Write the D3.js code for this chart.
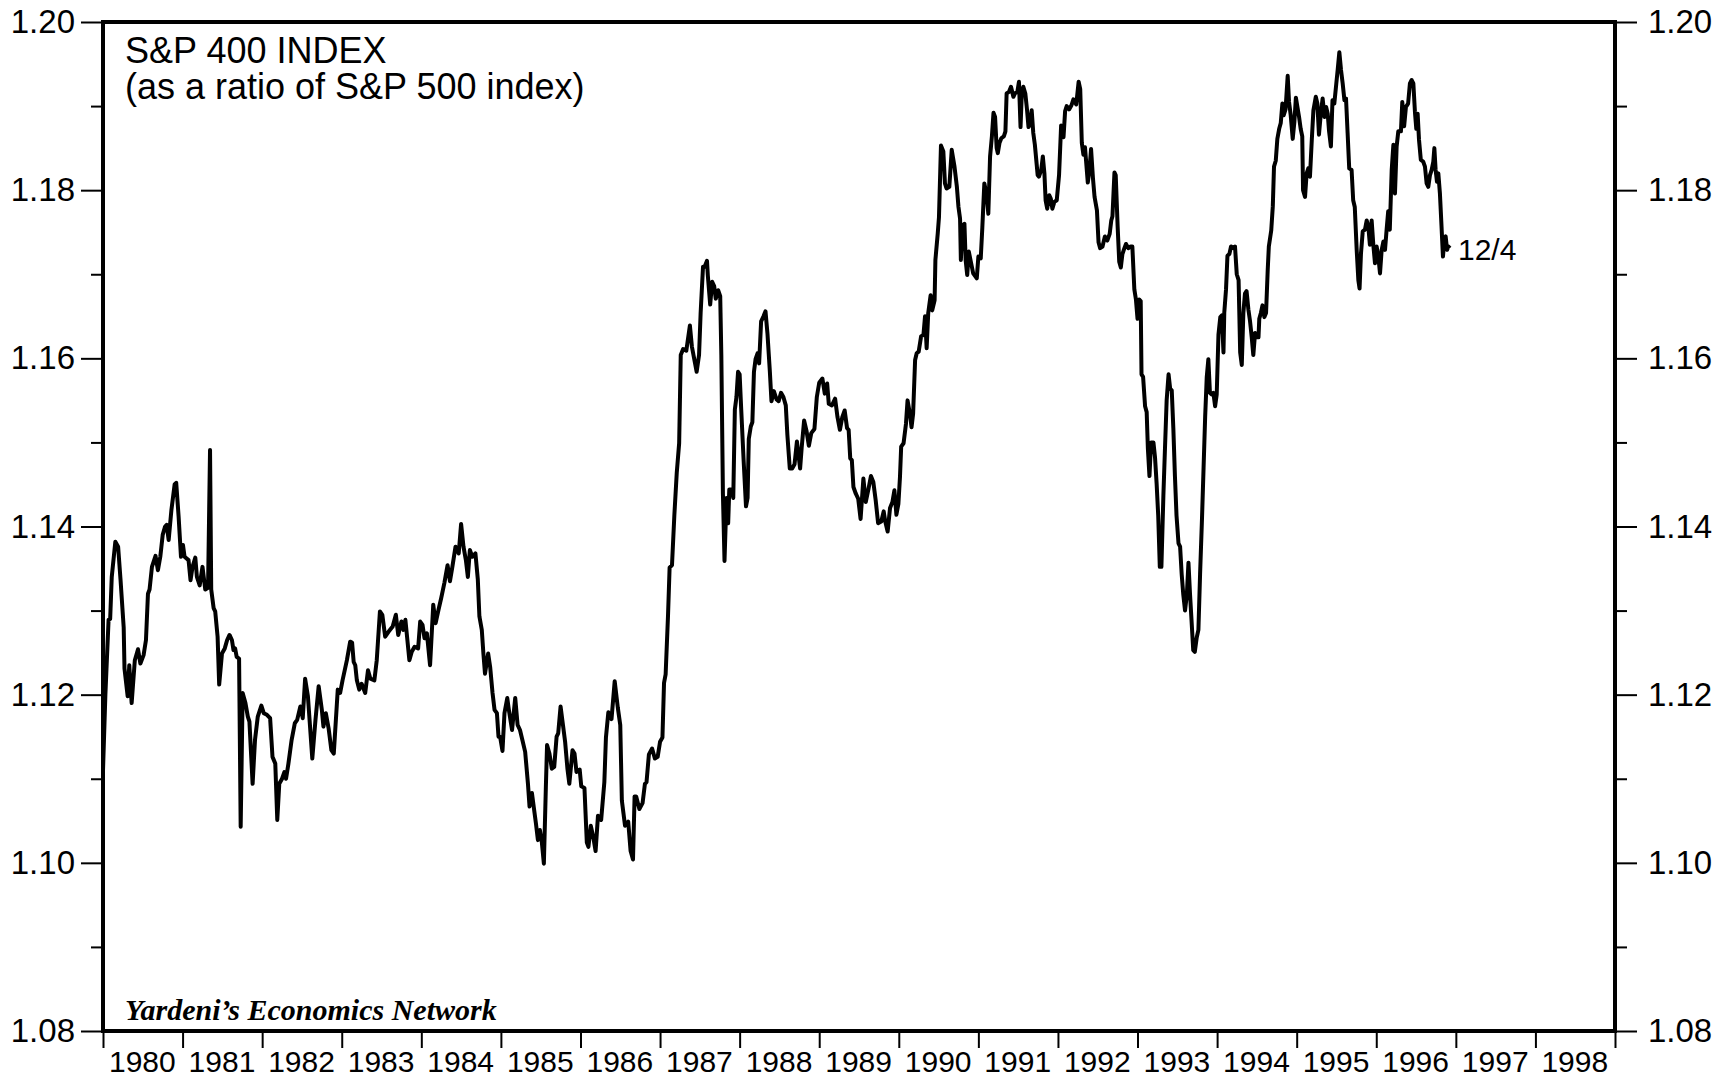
<!DOCTYPE html>
<html>
<head>
<meta charset="utf-8">
<script src="https://cdn.jsdelivr.net/npm/d3@7"></script>
<style>
  body { margin: 0; background: #fff; }
  svg text { font-family: "Liberation Sans", Arial, Helvetica, sans-serif; fill: #000; }
</style>
</head>
<body>
<svg id="chart" width="1732" height="1078"></svg>
<script>
// weekly S&P 400 / S&P 500 ratio, [decimal year, ratio]
const seg1980_82 = [
  [1980.00,1.111],[1980.03,1.120],[1980.07,1.1289],[1980.09,1.129],[1980.11,1.134],[1980.155,1.1382],
  [1980.19,1.1376],[1980.22,1.1337],[1980.26,1.128],[1980.27,1.1231],[1980.31,1.1198],[1980.33,1.1235],
  [1980.36,1.119],[1980.40,1.1241],[1980.44,1.1254],[1980.47,1.1237],[1980.51,1.1247],[1980.54,1.1265],
  [1980.565,1.132],[1980.585,1.1325],[1980.615,1.1352],[1980.66,1.1365],[1980.69,1.1348],[1980.72,1.1364],
  [1980.75,1.139],[1980.78,1.14],[1980.80,1.1402],[1980.825,1.1384],[1980.86,1.142],[1980.90,1.145],
  [1980.92,1.1452],[1980.95,1.1412],[1980.98,1.1364],[1981.005,1.1378],[1981.025,1.1364],[1981.075,1.136],
  [1981.10,1.1336],[1981.125,1.1352],[1981.16,1.1363],[1981.18,1.134],[1981.215,1.133],[1981.25,1.1352],
  [1981.285,1.1325],[1981.32,1.1327],[1981.345,1.1491],[1981.36,1.1325],[1981.39,1.1303],[1981.41,1.1299],
  [1981.44,1.1269],[1981.46,1.1212],[1981.495,1.1249],[1981.53,1.1255],[1981.56,1.1265],[1981.59,1.1271],
  [1981.62,1.1265],[1981.64,1.1253],[1981.66,1.1255],[1981.68,1.1245],[1981.71,1.1243],[1981.73,1.1043],
  [1981.755,1.1202],[1981.79,1.119],[1981.82,1.1174],[1981.84,1.1168],[1981.88,1.1094],[1981.91,1.1146],
  [1981.945,1.1174],[1981.99,1.1187],[1982.02,1.1178],[1982.06,1.1176],[1982.10,1.1172],[1982.13,1.1126],
  [1982.165,1.1118],[1982.19,1.1051],[1982.215,1.1094],[1982.25,1.11],[1982.28,1.1108],[1982.30,1.11],
  [1982.33,1.1118],[1982.37,1.1146],[1982.41,1.1166],[1982.44,1.117],[1982.48,1.1186],[1982.51,1.1172],
  [1982.54,1.1219],[1982.575,1.1198],[1982.63,1.1124],[1982.67,1.117],[1982.71,1.121],[1982.75,1.1182],
  [1982.77,1.1162],[1982.80,1.1178],[1982.835,1.116],[1982.87,1.1134],[1982.90,1.113]
];
const seg1983_85 = [
  [1982.95,1.1206],[1982.98,1.1202],[1983.01,1.1217],[1983.065,1.1241],[1983.106,1.1263],[1983.13,1.1262],
  [1983.15,1.1239],[1983.17,1.1235],[1983.19,1.1217],[1983.22,1.1206],[1983.25,1.1213],[1983.295,1.1202],
  [1983.33,1.1229],[1983.36,1.1219],[1983.41,1.1217],[1983.44,1.1241],[1983.48,1.1299],[1983.51,1.1295],
  [1983.546,1.1269],[1983.59,1.1275],[1983.64,1.1281],[1983.68,1.1295],[1983.71,1.1271],[1983.75,1.1287],
  [1983.776,1.1277],[1983.80,1.1289],[1983.85,1.1241],[1983.88,1.1251],[1983.915,1.1257],[1983.96,1.1255],
  [1983.986,1.1287],[1984.015,1.1283],[1984.04,1.1267],[1984.07,1.1273],[1984.11,1.1235],[1984.15,1.1307],
  [1984.18,1.1285],[1984.216,1.1301],[1984.25,1.1315],[1984.29,1.1333],[1984.33,1.1354],[1984.36,1.1335],
  [1984.39,1.1352],[1984.43,1.1376],[1984.47,1.1368],[1984.50,1.1403],[1984.53,1.1376],[1984.56,1.136],
  [1984.585,1.134],[1984.61,1.1372],[1984.64,1.1364],[1984.68,1.1368],[1984.71,1.1337],[1984.73,1.1293],
  [1984.76,1.1277],[1984.78,1.1249],[1984.80,1.1225],[1984.84,1.1249],[1984.865,1.1233],[1984.895,1.1202],
  [1984.92,1.1182],[1984.95,1.1178],[1984.97,1.115],[1984.99,1.115],[1985.02,1.1133],[1985.045,1.1178],
  [1985.08,1.1196],[1985.10,1.1182],[1985.14,1.1158],[1985.18,1.1196],[1985.21,1.1164],[1985.24,1.1158],
  [1985.27,1.1146],[1985.305,1.1132],[1985.34,1.1094],[1985.36,1.1067],[1985.39,1.1083],[1985.415,1.1065],
  [1985.44,1.1047],[1985.465,1.1027],[1985.49,1.1039],[1985.514,1.1025],[1985.54,1.0999],[1985.565,1.109],
  [1985.58,1.114],[1985.61,1.113],[1985.64,1.1112],[1985.67,1.1114],[1985.70,1.115],[1985.72,1.1154],
  [1985.75,1.1186],[1985.78,1.1164],[1985.807,1.1144],[1985.836,1.1112],[1985.86,1.1094],[1985.90,1.1134],
  [1985.925,1.113]
];
const seg1986_88 = [
  [1985.95,1.1108],[1985.99,1.1111],[1986.01,1.1091],[1986.05,1.1089],[1986.08,1.1024],[1986.10,1.1019],
  [1986.13,1.1044],[1986.16,1.1031],[1986.19,1.1014],[1986.22,1.1056],[1986.26,1.1051],[1986.30,1.1096],
  [1986.32,1.1149],[1986.35,1.1179],[1986.39,1.1171],[1986.43,1.1216],[1986.47,1.1184],[1986.50,1.1164],
  [1986.52,1.1074],[1986.56,1.1044],[1986.60,1.1049],[1986.63,1.1014],[1986.66,1.1004],[1986.68,1.1079],
  [1986.70,1.1079],[1986.74,1.1064],[1986.78,1.1071],[1986.81,1.1094],[1986.83,1.1096],[1986.86,1.1129],
  [1986.90,1.1136],[1986.935,1.1124],[1986.97,1.1126],[1987.00,1.1144],[1987.03,1.1149],[1987.05,1.1214],
  [1987.07,1.1224],[1987.10,1.1294],[1987.12,1.1351],[1987.15,1.1354],[1987.18,1.1414],[1987.21,1.1464],
  [1987.24,1.1499],[1987.26,1.1604],[1987.29,1.1611],[1987.33,1.1609],[1987.375,1.1639],[1987.40,1.1614],
  [1987.44,1.1594],[1987.46,1.1584],[1987.49,1.1604],[1987.51,1.1654],[1987.54,1.1709],[1987.56,1.1709],
  [1987.59,1.1716],[1987.60,1.1699],[1987.63,1.1664],[1987.655,1.1691],[1987.68,1.1686],[1987.70,1.1671],
  [1987.73,1.1681],[1987.756,1.1674],[1987.77,1.1604],[1987.79,1.1439],[1987.81,1.1359],[1987.835,1.1434],
  [1987.856,1.1404],[1987.87,1.1444],[1987.90,1.1444],[1987.92,1.1434],[1987.94,1.1539],[1987.96,1.1554],
  [1987.98,1.1584],[1988.00,1.1581],[1988.02,1.1539],[1988.05,1.1479],[1988.08,1.1424],[1988.10,1.1434],
  [1988.115,1.1504],[1988.14,1.1519],[1988.16,1.1524],[1988.18,1.1584],[1988.20,1.1599],[1988.225,1.1606],
  [1988.245,1.1594],[1988.27,1.1644],[1988.30,1.165],[1988.325,1.1656],[1988.35,1.1629],[1988.38,1.1584],
  [1988.40,1.1549],[1988.43,1.1561],[1988.465,1.1551],[1988.49,1.1549],[1988.52,1.1559],[1988.55,1.1554],
  [1988.58,1.1544],[1988.60,1.1509],[1988.63,1.1469],[1988.66,1.1469],[1988.69,1.1474],[1988.72,1.1501],
  [1988.76,1.1469],[1988.78,1.1494],[1988.81,1.1526],[1988.84,1.1514],[1988.87,1.1496],[1988.90,1.1511],
  [1988.94,1.1516]
];
const seg1989_91 = [
  [1988.97,1.1554],[1989.00,1.1571],[1989.04,1.1576],[1989.07,1.1558],[1989.10,1.157],[1989.12,1.1546],
  [1989.16,1.1544],[1989.20,1.1552],[1989.23,1.153],[1989.26,1.1515],[1989.29,1.153],[1989.32,1.1538],
  [1989.35,1.1517],[1989.37,1.1515],[1989.39,1.1481],[1989.41,1.1479],[1989.43,1.1447],[1989.46,1.1439],
  [1989.49,1.1433],[1989.52,1.1409],[1989.555,1.1457],[1989.585,1.1429],[1989.62,1.1445],[1989.65,1.146],
  [1989.68,1.1453],[1989.71,1.1431],[1989.74,1.1404],[1989.78,1.1406],[1989.81,1.1418],[1989.83,1.1406],
  [1989.86,1.1394],[1989.89,1.1422],[1989.92,1.1429],[1989.945,1.1443],[1989.97,1.1414],[1989.995,1.1427],
  [1990.015,1.1459],[1990.03,1.1495],[1990.06,1.1499],[1990.09,1.1522],[1990.11,1.155],[1990.14,1.1534],
  [1990.16,1.1518],[1990.18,1.1534],[1990.205,1.1598],[1990.225,1.1606],[1990.25,1.1608],[1990.28,1.1626],
  [1990.31,1.1628],[1990.33,1.165],[1990.35,1.1612],[1990.37,1.1654],[1990.40,1.1675],[1990.42,1.1657],
  [1990.45,1.1669],[1990.46,1.1717],[1990.49,1.1749],[1990.505,1.1768],[1990.53,1.1853],[1990.56,1.1846],
  [1990.58,1.1808],[1990.60,1.1802],[1990.635,1.1804],[1990.665,1.1848],[1990.70,1.1828],[1990.73,1.1804],
  [1990.75,1.178],[1990.77,1.1766],[1990.78,1.1717],[1990.80,1.1758],[1990.825,1.176],[1990.84,1.1717],
  [1990.86,1.1699],[1990.88,1.1727],[1990.905,1.1715],[1990.935,1.1701],[1990.98,1.1695],[1991.00,1.1721],
  [1991.03,1.1719],[1991.05,1.1756],[1991.075,1.1808],[1991.105,1.1794],[1991.125,1.1772],[1991.147,1.184],
  [1991.17,1.1864],[1991.19,1.1892],[1991.21,1.1887],[1991.23,1.185],[1991.244,1.1844],[1991.265,1.1856],
  [1991.29,1.1862],[1991.32,1.1864],[1991.34,1.187],[1991.355,1.1915],[1991.385,1.1917],[1991.41,1.1923],
  [1991.44,1.1911],[1991.46,1.1915],[1991.49,1.1917],[1991.51,1.1929],[1991.53,1.1875],[1991.545,1.1913],
  [1991.565,1.1923],[1991.59,1.1915],[1991.61,1.1897],[1991.63,1.1875],[1991.65,1.1879],[1991.67,1.1895],
  [1991.69,1.1868],[1991.71,1.1854],[1991.745,1.1818],[1991.76,1.1816],[1991.79,1.1824],[1991.81,1.184],
  [1991.83,1.182],[1991.845,1.1788],[1991.865,1.1778],[1991.89,1.1794],[1991.91,1.179],[1991.93,1.1778],
  [1991.955,1.1786],[1991.985,1.1788]
];
const seg1992_94 = [
  [1992.014,1.1818],[1992.04,1.1877],[1992.07,1.1863],[1992.09,1.1894],[1992.11,1.19],[1992.14,1.1896],
  [1992.17,1.1901],[1992.194,1.1908],[1992.23,1.1902],[1992.26,1.1929],[1992.28,1.192],[1992.30,1.1856],
  [1992.32,1.1842],[1992.34,1.1851],[1992.375,1.1809],[1992.395,1.1823],[1992.416,1.1849],[1992.44,1.1814],
  [1992.46,1.1792],[1992.49,1.1776],[1992.51,1.1738],[1992.53,1.1731],[1992.56,1.1733],[1992.59,1.1745],
  [1992.62,1.174],[1992.65,1.1748],[1992.67,1.1764],[1992.685,1.1769],[1992.71,1.1821],[1992.726,1.1818],
  [1992.75,1.1757],[1992.77,1.1715],[1992.79,1.1708],[1992.81,1.1724],[1992.835,1.1731],[1992.855,1.1736],
  [1992.885,1.1731],[1992.915,1.1733],[1992.935,1.1733],[1992.96,1.1682],[1992.98,1.167],[1993.00,1.1647],
  [1993.02,1.167],[1993.04,1.1668],[1993.05,1.1581],[1993.07,1.1578],[1993.095,1.1543],[1993.115,1.1536],
  [1993.13,1.1493],[1993.15,1.146],[1993.17,1.15],[1993.20,1.15],[1993.22,1.1482],[1993.24,1.1451],
  [1993.26,1.1413],[1993.28,1.1352],[1993.30,1.1352],[1993.325,1.1437],[1993.345,1.1493],[1993.366,1.155],
  [1993.39,1.1581],[1993.41,1.1564],[1993.43,1.1562],[1993.45,1.1517],[1993.47,1.146],[1993.49,1.1413],
  [1993.515,1.138],[1993.535,1.1376],[1993.555,1.1343],[1993.575,1.1319],[1993.597,1.13],[1993.62,1.1319],
  [1993.64,1.1357],[1993.66,1.1319],[1993.68,1.1286],[1993.70,1.1253],[1993.72,1.1251],[1993.744,1.1268],
  [1993.765,1.1277],[1993.786,1.1343],[1993.81,1.1409],[1993.83,1.147],[1993.85,1.1531],[1993.87,1.1578],
  [1993.89,1.1599],[1993.91,1.1559],[1993.93,1.1557],[1993.953,1.1559],[1993.975,1.1543],[1993.995,1.1557],
  [1994.017,1.1628],[1994.04,1.1649],[1994.06,1.1651],[1994.08,1.1607],[1994.09,1.1654],[1994.112,1.1682],
  [1994.13,1.1722],[1994.154,1.1724],[1994.175,1.1733],[1994.205,1.1731],[1994.225,1.1733],[1994.247,1.17],
  [1994.27,1.1693],[1994.29,1.1607],[1994.31,1.1592],[1994.33,1.1654],[1994.35,1.1677],[1994.37,1.168],
  [1994.393,1.1658],[1994.414,1.1644],[1994.435,1.1625],[1994.455,1.1604],[1994.477,1.163],[1994.50,1.1625],
  [1994.52,1.1625],[1994.53,1.1647],[1994.55,1.1654],[1994.57,1.1663],[1994.594,1.1649],[1994.615,1.1654],
  [1994.636,1.1705],[1994.65,1.1733],[1994.68,1.1752],[1994.70,1.1781],[1994.715,1.1828],[1994.737,1.1835],
  [1994.757,1.1861],[1994.78,1.1873],[1994.80,1.188],[1994.82,1.1903],[1994.836,1.1889],[1994.86,1.1896],
  [1994.887,1.1936],[1994.904,1.1905],[1994.925,1.1889],[1994.95,1.1861],[1994.97,1.188],[1994.99,1.191]
];
const seg1995_96 = [
  [1995.03,1.1887],[1995.05,1.1873],[1995.07,1.1864],[1995.08,1.18],[1995.105,1.1792],[1995.125,1.182],
  [1995.146,1.1826],[1995.167,1.1816],[1995.19,1.186],[1995.21,1.1895],[1995.24,1.1911],[1995.26,1.1903],
  [1995.28,1.1866],[1995.305,1.1893],[1995.326,1.1909],[1995.35,1.1887],[1995.37,1.1899],[1995.39,1.1891],
  [1995.406,1.1871],[1995.43,1.1852],[1995.45,1.1907],[1995.473,1.1903],[1995.498,1.1927],[1995.515,1.1943],
  [1995.536,1.1964],[1995.557,1.1943],[1995.578,1.1927],[1995.60,1.1907],[1995.62,1.1909],[1995.64,1.1868],
  [1995.66,1.1826],[1995.69,1.1824],[1995.71,1.1788],[1995.73,1.178],[1995.754,1.1729],[1995.775,1.1693],
  [1995.79,1.1683],[1995.808,1.1725],[1995.83,1.1751],[1995.858,1.1753],[1995.88,1.1764],[1995.90,1.1757],
  [1995.92,1.1735],[1995.942,1.1764],[1995.963,1.1735],[1995.984,1.1713],[1996.005,1.1733],[1996.026,1.1721],
  [1996.047,1.1701],[1996.068,1.1729],[1996.09,1.1739],[1996.11,1.1729],[1996.13,1.1753],[1996.15,1.1775],
  [1996.17,1.1753],[1996.194,1.1824],[1996.215,1.1854],[1996.235,1.1796],[1996.256,1.1852],[1996.277,1.187],
  [1996.31,1.187],[1996.327,1.1905],[1996.35,1.1876],[1996.373,1.1899],[1996.40,1.1903],[1996.423,1.1927],
  [1996.445,1.1931],[1996.466,1.1927],[1996.486,1.1893],[1996.503,1.1873],[1996.52,1.1891],[1996.537,1.186],
  [1996.56,1.1836],[1996.59,1.1834],[1996.612,1.1828],[1996.633,1.1808],[1996.654,1.1804],[1996.675,1.1818],
  [1996.696,1.1824],[1996.717,1.1834],[1996.73,1.185],[1996.746,1.1824],[1996.763,1.181],[1996.78,1.182],
  [1996.80,1.1796],[1996.82,1.1757],[1996.838,1.1721],[1996.855,1.1739],[1996.872,1.1745],[1996.89,1.1729],
  [1996.905,1.1733],[1996.926,1.1731]
];

const yearTicks = d3.range(1980, 2000);
const yearLabels = d3.range(1980, 1999);
const majorTicks = [1.08, 1.10, 1.12, 1.14, 1.16, 1.18, 1.20];
const minorTicks = [1.09, 1.11, 1.13, 1.15, 1.17, 1.19];
const lastLabel = "12/4";

const data = [].concat(seg1980_82, seg1983_85, seg1986_88, seg1989_91, seg1992_94, seg1995_96)
  .map(d => ({year: d[0], value: d[1]}));

const svg = d3.select("#chart");
const width = +svg.attr("width");
const height = +svg.attr("height");
const margin = {top: 22, right: 117, bottom: 47, left: 103};
const innerWidth = width - margin.left - margin.right;
const innerHeight = height - margin.top - margin.bottom;

const x = d3.scaleLinear().domain([1980, 1999]).range([0, innerWidth]);
const y = d3.scaleLinear().domain([1.08, 1.20]).range([innerHeight, 0]);

const g = svg.append("g").attr("transform", `translate(${margin.left},${margin.top})`);

function styleAxis(sel, fontSize) {
  sel.select(".domain").remove();
  sel.selectAll("line").attr("stroke", "#000").attr("stroke-width", 2);
  sel.selectAll("text")
    .attr("font-size", fontSize)
    .attr("font-family", '"Liberation Sans", Arial, sans-serif')
    .attr("fill", "#000");
}

// left and right value axes
g.append("g")
  .call(d3.axisLeft(y).tickValues(majorTicks).tickSize(22).tickPadding(6).tickFormat(d3.format(".2f")))
  .call(s => styleAxis(s, 33));
g.append("g")
  .call(d3.axisLeft(y).tickValues(minorTicks).tickSize(12).tickFormat(""))
  .call(s => styleAxis(s, 33));
g.append("g")
  .attr("transform", `translate(${innerWidth},0)`)
  .call(d3.axisRight(y).tickValues(majorTicks).tickSize(22).tickPadding(11).tickFormat(d3.format(".2f")))
  .call(s => styleAxis(s, 33));
g.append("g")
  .attr("transform", `translate(${innerWidth},0)`)
  .call(d3.axisRight(y).tickValues(minorTicks).tickSize(12).tickFormat(""))
  .call(s => styleAxis(s, 33));

// year ticks and labels between them
g.append("g")
  .attr("transform", `translate(0,${innerHeight})`)
  .call(d3.axisBottom(x).tickValues(yearTicks).tickSize(17).tickFormat(""))
  .call(s => styleAxis(s, 30));

g.append("g").selectAll("text")
  .data(yearLabels)
  .join("text")
  .attr("x", d => x(d) + 6)
  .attr("y", innerHeight + 41)
  .attr("font-size", 30)
  .text(d => d);

// series
const line = d3.line()
  .x(d => x(d.year))
  .y(d => y(d.value));

g.append("path")
  .datum(data)
  .attr("fill", "none")
  .attr("stroke", "#000")
  .attr("stroke-width", 4)
  .attr("stroke-linejoin", "round")
  .attr("d", line);

// frame
g.append("rect")
  .attr("x", 0).attr("y", 0)
  .attr("width", innerWidth).attr("height", innerHeight)
  .attr("fill", "none")
  .attr("stroke", "#000")
  .attr("stroke-width", 4);

// titles
g.append("text").attr("x", 22).attr("y", 41).attr("font-size", 36).text("S&P 400 INDEX");
g.append("text").attr("x", 22).attr("y", 77).attr("font-size", 36).text("(as a ratio of S&P 500 index)");

g.append("text")
  .attr("x", 22).attr("y", innerHeight - 11)
  .attr("font-size", 30)
  .attr("font-weight", "bold")
  .attr("font-style", "italic")
  .style("font-family", '"Liberation Serif", "Times New Roman", serif')
  .text("Yardeni\u2019s Economics Network");

const last = data[data.length - 1];
g.append("text")
  .attr("x", x(last.year) + 8)
  .attr("y", y(last.value))
  .attr("dy", "0.4em")
  .attr("font-size", 30)
  .text(lastLabel);
</script>
</body>
</html>
